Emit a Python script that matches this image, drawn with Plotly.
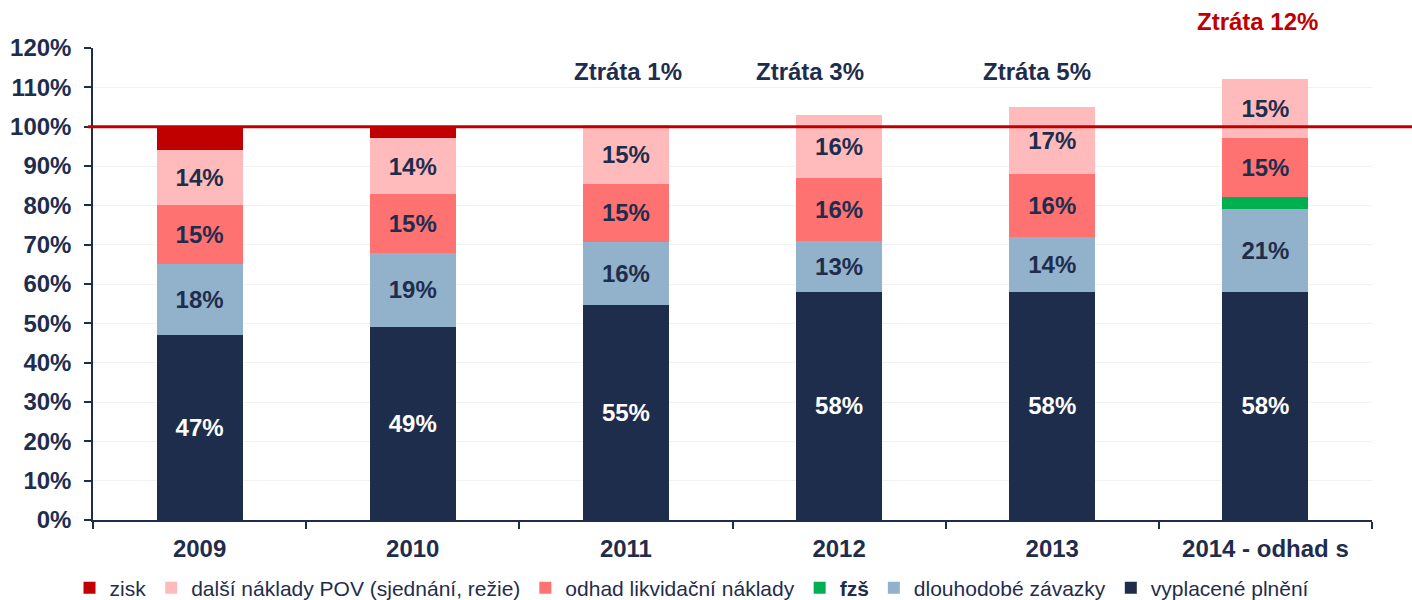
import plotly.graph_objects as go

categories = ["2009", "2010", "2011", "2012", "2013", "2014 - odhad s"]

vyplacene = [47, 49, 54.6, 58, 58, 58]
dlouhodobe = [18, 19, 16.1, 13, 14, 21]
fzs = [0, 0, 0, 0, 0, 3]
odhad = [15, 15, 14.8, 16, 16, 15]
dalsi = [14, 14, 14.9, 16, 17, 15]
zisk = [6, 3, 0, 0, 0, 0]

loss_labels = ["", "", "Ztráta 1%", "Ztráta 3%", "Ztráta 5%", "Ztráta 12%"]

NAVY = "#1F2D4D"
FONT = "Liberation Sans, Arial, sans-serif"

series = [
    ("vyplacené plnění", vyplacene, "#1F2D4D", "white", True),
    ("dlouhodobé závazky", dlouhodobe, "#92B2CB", NAVY, True),
    ("<b>fzš</b>", fzs, "#00B050", NAVY, False),
    ("odhad likvidační náklady", odhad, "#FF7272", NAVY, True),
    ("další náklady POV (sjednání, režie)", dalsi, "#FFBBBB", NAVY, True),
    ("zisk", zisk, "#C00000", NAVY, False),
]

fig = go.Figure()
for name, vals, color, tcolor, show in series:
    fig.add_trace(go.Bar(
        name=name, x=categories, y=vals,
        marker=dict(color=color, line=dict(width=0)),
        texttemplate="<b>%{y:.0f}%</b>" if show else "",
        textposition="inside" if show else "none",
        insidetextanchor="middle",
        textangle=0,
        constraintext="none",
        textfont=dict(color=tcolor, size=24, family=FONT),
        hoverinfo="name+y",
    ))

# 100% reference line
fig.add_shape(type="line", xref="paper", yref="y", x0=-0.004, x1=1.04, y0=100, y1=100,
              line=dict(color="#C00000", width=3), layer="above")

PLOT_H = 472
shifts = [0, 0, 2, -29, -15, -8]
for i, lab in enumerate(loss_labels):
    if not lab:
        continue
    is_last = i == len(loss_labels) - 1
    fig.add_annotation(
        x=i, xref="x", yref="paper",
        y=(600 - 22 - 80) / PLOT_H if is_last else (600 - 72 - 80) / PLOT_H,
        yanchor="middle", xshift=shifts[i], showarrow=False,
        text="<b>%s</b>" % lab,
        font=dict(size=24, color="#C00000" if is_last else NAVY, family=FONT),
    )

fig.update_layout(
    width=1412, height=600,
    margin=dict(l=93, r=40, t=48, b=80, autoexpand=False),
    barmode="stack", bargap=0.597,
    plot_bgcolor="white", paper_bgcolor="white",
    font=dict(family=FONT, color=NAVY),
    showlegend=True,
    legend=dict(orientation="h", traceorder="reversed", x=(692 - 93) / 1279, xanchor="center",
                y=-(588 - 520) / PLOT_H, yanchor="middle",
                font=dict(size=21, color=NAVY, family=FONT),
                itemwidth=30, tracegroupgap=0),
)
fig.update_yaxes(range=[0, 120], dtick=10, ticksuffix="%", automargin=False,
                 showgrid=True, gridcolor="#F2F2F2", gridwidth=1,
                 showline=True, linecolor=NAVY, linewidth=1.5,
                 ticks="outside", ticklen=7, tickcolor=NAVY, tickwidth=1.5,
                 ticklabelstandoff=8,
                 tickfont=dict(size=24, family=FONT, color=NAVY, weight="bold"),
                 zeroline=False)
fig.update_xaxes(type="category", automargin=False, showline=True, linecolor=NAVY, linewidth=1.5,
                 ticks="outside", ticklen=7, tickcolor=NAVY, tickwidth=1.5,
                 tickson="boundaries", ticklabelstandoff=6,
                 tickfont=dict(size=24, family=FONT, color=NAVY, weight="bold"))

fig.write_html("out.html", config={"displayModeBar": False},
               post_script="document.body.style.margin='0';document.body.style.overflow='hidden';")
